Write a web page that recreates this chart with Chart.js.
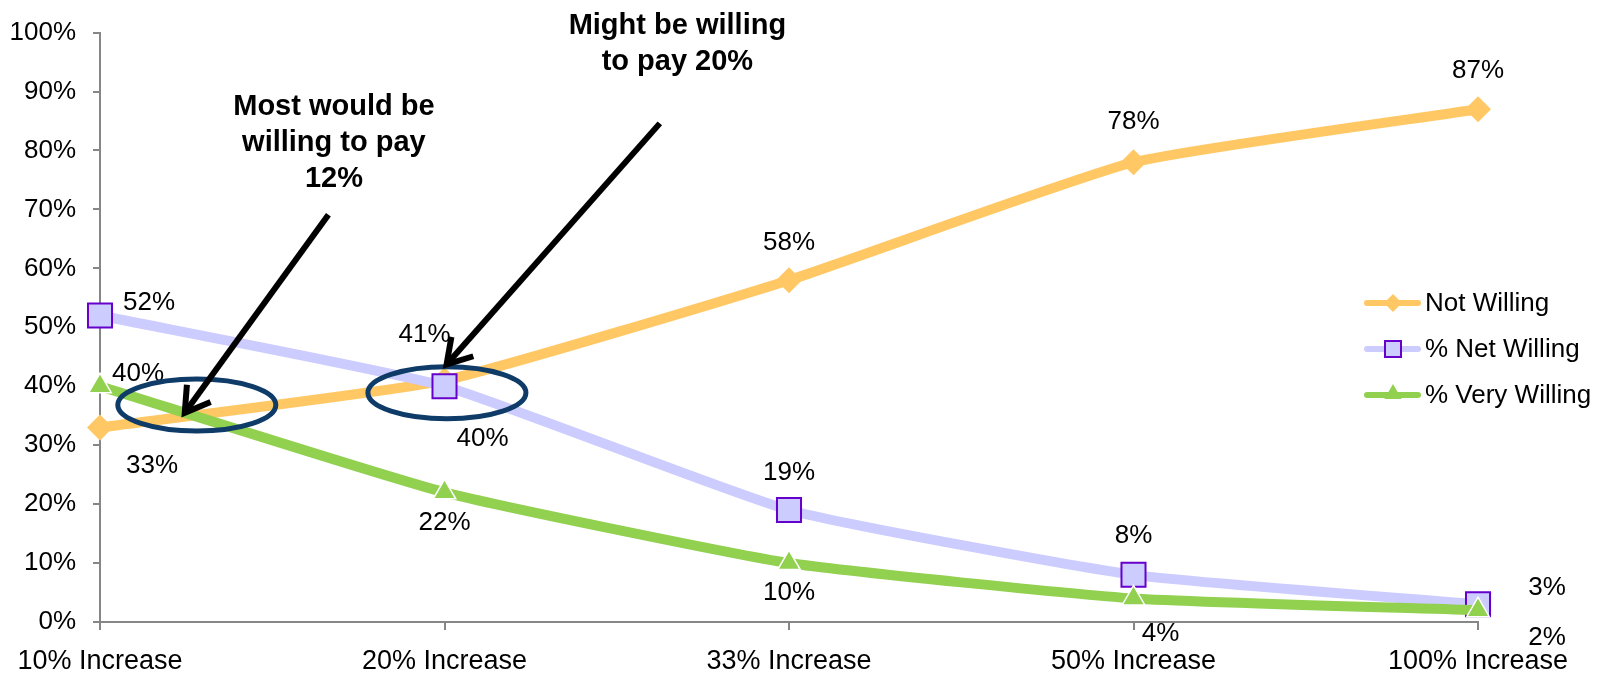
<!DOCTYPE html>
<html>
<head>
<meta charset="utf-8">
<script src="https://cdn.jsdelivr.net/npm/chart.js@4.4.1/dist/chart.umd.min.js"></script>
<style>
  html, body { margin: 0; padding: 0; background: #fff; }
  #wrap { width: 1610px; height: 676px; }
</style>
</head>
<body>
<div id="wrap"><canvas id="chart" width="1610" height="676"></canvas></div>
<script>
// ---- data ----
const categories  = ['10% Increase', '20% Increase', '33% Increase', '50% Increase', '100% Increase'];
const notWilling  = [33, 41, 58, 78, 87];
const netWilling  = [52, 40, 19, 8, 3];
const veryWilling = [40, 22, 10, 4, 2];
const seriesNames = ['Not Willing', '% Net Willing', '% Very Willing'];

// ---- label placement (pixel offsets from each point) ----
const labelOffsets = [
  [[52, 38], [-20, -46], [0, -37], [0, -40], [0, -38]],
  [[49, -13], [38, 53], [0, -37], [0, -39], [69, -16]],
  [[38, -12], [0, 30], [0, 30], [27, 35], [69, 28]]
];

// ---- callouts, anchored in [category index, value] ----
const calloutTexts = [['Most would be', 'willing to pay', '12%'], ['Might be willing', 'to pay 20%']];
const calloutAt    = [[0.679, 87.3], [1.676, 101.1]];
const arrowFrom    = [[0.663, 69.1], [1.625, 84.6]];
const arrowTo      = [[0.246, 35.5], [1.006, 43.7]];
const ringAt       = [[0.281, 36.8], [1.007, 38.9]];

const FONT = "'Liberation Sans', Arial, sans-serif";
const ORANGE = '#FFC864', LAVENDER = '#CCCCFF', PURPLE = '#6600CC', GREEN = '#92D050', NAVY = '#0E3B67';
const AXIS = '#868686';

Chart.defaults.font.family = FONT;
Chart.defaults.font.size = 26;
Chart.defaults.color = '#000';

function marker(ctx, style, x, y, r, fill, stroke, sw) {
  ctx.save();
  ctx.beginPath();
  if (style === 'diamond') {
    ctx.moveTo(x - r, y); ctx.lineTo(x, y - r); ctx.lineTo(x + r, y); ctx.lineTo(x, y + r);
  } else if (style === 'square') {
    ctx.rect(x - r, y - r, 2 * r, 2 * r);
  } else {
    ctx.moveTo(x, y - r); ctx.lineTo(x + r * 0.866, y + r * 0.5); ctx.lineTo(x - r * 0.866, y + r * 0.5);
  }
  ctx.closePath();
  ctx.fillStyle = fill; ctx.fill();
  if (sw) { ctx.lineWidth = sw; ctx.strokeStyle = stroke; ctx.stroke(); }
  ctx.restore();
}

const overlay = {
  id: 'overlay',
  afterDatasetsDraw(chart) {
    const ctx = chart.ctx, xs = chart.scales.x, ys = chart.scales.y;
    const px = p => [xs.getPixelForValue(p[0]), ys.getPixelForValue(p[1])];

    // value labels
    ctx.save();
    ctx.font = '26px ' + FONT;
    ctx.fillStyle = '#000';
    ctx.textAlign = 'center';
    ctx.textBaseline = 'middle';
    chart.data.datasets.forEach((ds, di) => {
      chart.getDatasetMeta(di).data.forEach((pt, i) => {
        const o = labelOffsets[di][i];
        ctx.fillText(ds.data[i] + '%', pt.x + o[0], pt.y + o[1]);
      });
    });
    ctx.restore();

    // rings
    ctx.save();
    ctx.strokeStyle = NAVY;
    ctx.lineWidth = 5;
    ringAt.forEach(a => {
      const [cx, cy] = px(a);
      ctx.beginPath();
      ctx.ellipse(cx, cy, 79, 26, 0, 0, Math.PI * 2);
      ctx.stroke();
    });
    ctx.restore();

    // arrows
    ctx.save();
    ctx.strokeStyle = '#000';
    ctx.lineWidth = 6;
    ctx.lineCap = 'butt';
    ctx.lineJoin = 'miter';
    arrowFrom.forEach((f, i) => {
      const [x0, y0] = px(f), [x1, y1] = px(arrowTo[i]);
      ctx.beginPath(); ctx.moveTo(x0, y0); ctx.lineTo(x1, y1); ctx.stroke();
      const back = Math.atan2(y0 - y1, x0 - x1);
      ctx.beginPath();
      ctx.moveTo(x1 + 28 * Math.cos(back + 0.55), y1 + 28 * Math.sin(back + 0.55));
      ctx.lineTo(x1, y1);
      ctx.lineTo(x1 + 28 * Math.cos(back - 0.55), y1 + 28 * Math.sin(back - 0.55));
      ctx.stroke();
    });
    ctx.restore();

    // callout text
    ctx.save();
    ctx.font = 'bold 29px ' + FONT;
    ctx.fillStyle = '#000';
    ctx.textAlign = 'center';
    ctx.textBaseline = 'middle';
    calloutTexts.forEach((lines, i) => {
      const [cx, cy] = px(calloutAt[i]);
      lines.forEach((t, k) => ctx.fillText(t, cx, cy + k * 36));
    });
    ctx.restore();
  },
  afterDraw(chart) {
    // legend inside the right part of the chart
    const ctx = chart.ctx;
    const styles = [['diamond', ORANGE, ORANGE, 0, 9], ['square', LAVENDER, PURPLE, 2, 8], ['tri', GREEN, GREEN, 0, 10]];
    const lineCols = [ORANGE, LAVENDER, GREEN];
    ctx.save();
    seriesNames.forEach((name, i) => {
      const y = 303 + i * 46;
      ctx.strokeStyle = lineCols[i];
      ctx.lineWidth = 6;
      ctx.lineCap = 'round';
      ctx.beginPath(); ctx.moveTo(1367, y); ctx.lineTo(1418, y); ctx.stroke();
      const s = styles[i];
      marker(ctx, s[0], 1393, i === 2 ? y - 1 : y, s[4], s[1], s[2], s[3]);
      ctx.font = '26px ' + FONT;
      ctx.fillStyle = '#000';
      ctx.textAlign = 'left';
      ctx.textBaseline = 'middle';
      ctx.fillText(name, 1425, y + 1);
    });
    ctx.restore();
  }
};

const lineBase = { borderWidth: 10, tension: 0.15, fill: false, clip: false };

new Chart(document.getElementById('chart'), {
  type: 'line',
  data: {
    labels: categories,
    datasets: [
      { ...lineBase, label: seriesNames[0], data: notWilling, order: 3,
        borderColor: ORANGE, pointStyle: 'rectRot', pointRadius: 13,
        pointBackgroundColor: ORANGE, pointBorderColor: ORANGE, pointBorderWidth: 0 },
      { ...lineBase, label: seriesNames[1], data: netWilling, order: 2,
        borderColor: LAVENDER, pointStyle: 'rect', pointRadius: 17,
        pointBackgroundColor: LAVENDER, pointBorderColor: PURPLE, pointBorderWidth: 2 },
      { ...lineBase, label: seriesNames[2], data: veryWilling, order: 1,
        borderColor: GREEN, pointStyle: 'triangle', pointRadius: 13,
        pointBackgroundColor: GREEN, pointBorderColor: '#fff', pointBorderWidth: 1.5 }
    ]
  },
  options: {
    responsive: false,
    animation: false,
    devicePixelRatio: 1,
    layout: { padding: { top: 29, right: 132, left: 0, bottom: 0 } },
    plugins: { legend: { display: false }, tooltip: { enabled: false } },
    scales: {
      x: {
        type: 'category',
        offset: false,
        grid: { drawOnChartArea: false, tickLength: 8, color: AXIS, lineWidth: 2 },
        border: { color: AXIS, width: 2 },
        ticks: { color: '#000', padding: 15, maxRotation: 0, autoSkip: false, font: { size: 27 } },
        afterFit: s => { s.height = 54; }
      },
      y: {
        min: 0, max: 100,
        grid: { drawOnChartArea: false, tickLength: 7, color: AXIS, lineWidth: 2 },
        border: { color: AXIS, width: 2 },
        ticks: { stepSize: 10, color: '#000', padding: 17, callback: v => v + '%' },
        afterFit: s => { s.width = 100; }
      }
    }
  },
  plugins: [overlay]
});
</script>
</body>
</html>
